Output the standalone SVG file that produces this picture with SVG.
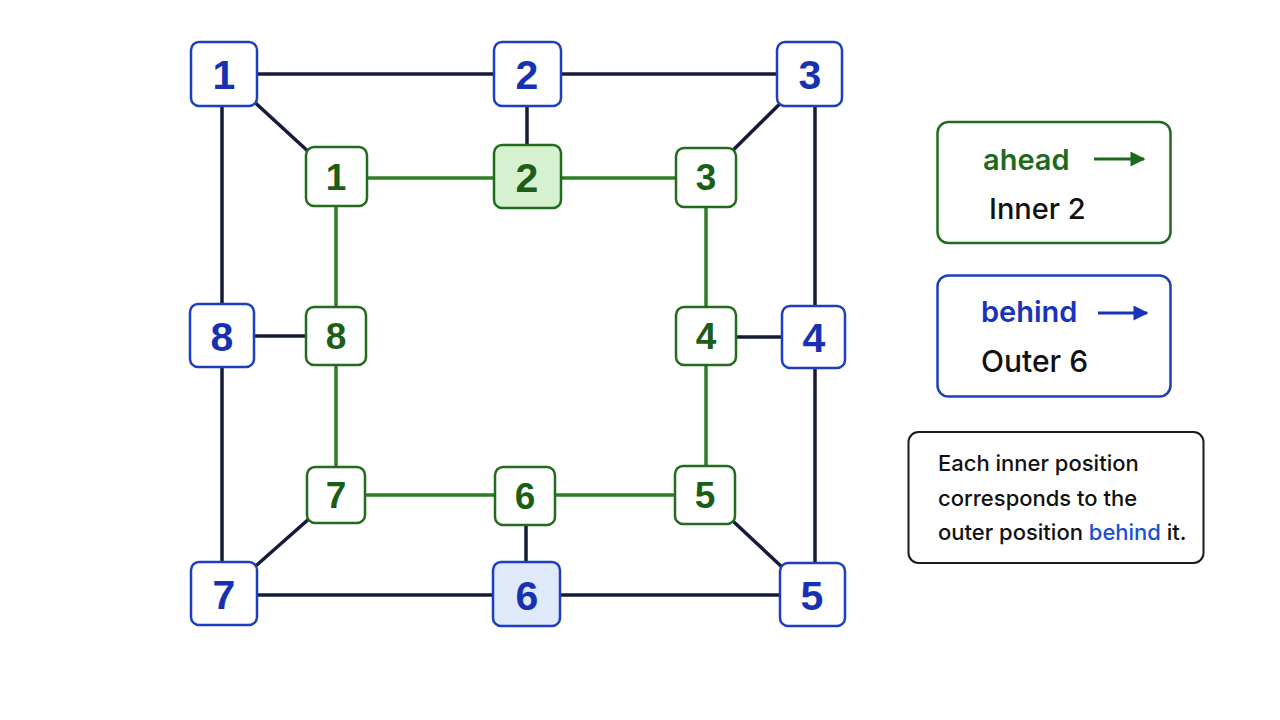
<svg xmlns="http://www.w3.org/2000/svg" width="1280" height="720" viewBox="0 0 1280 720">
<style>
.outer rect{fill:#fff;stroke:#1d3fbf;stroke-width:2.5}
.inner rect{fill:#fff;stroke:#226b1c;stroke-width:2.5}
.outer text{font-family:"Liberation Sans",Arial,sans-serif;font-weight:bold;font-size:41px;fill:#1632b3;text-anchor:middle}
.inner text{font-family:"Liberation Sans",Arial,sans-serif;font-weight:bold;font-size:37px;fill:#1d5e17;text-anchor:middle}
.dark{stroke:#151b3a;stroke-width:3.5;fill:none}
.green{stroke:#2d7d24;stroke-width:3.5;fill:none}
.lbl{font-family:Inter,"Liberation Sans",Arial,sans-serif}
</style>
<defs>
<marker id="ag" viewBox="0 0 10 10" refX="9" refY="5" markerWidth="6" markerHeight="5" orient="auto" markerUnits="strokeWidth"><path d="M0,0L10,5L0,10z" fill="#1d6b1a"/></marker>
<marker id="ab" viewBox="0 0 10 10" refX="9" refY="5" markerWidth="6" markerHeight="5" orient="auto" markerUnits="strokeWidth"><path d="M0,0L10,5L0,10z" fill="#1833bd"/></marker>
</defs>
<rect width="1280" height="720" fill="#fff"/>
<g id="connectors">
<line class="dark" x1="224" y1="74" x2="810" y2="74"/>
<line class="dark" x1="222" y1="74" x2="222" y2="594"/>
<line class="dark" x1="815" y1="74" x2="815" y2="595"/>
<line class="dark" x1="224" y1="595" x2="812" y2="595"/>
<line class="dark" x1="224" y1="74" x2="336" y2="177"/>
<line class="dark" x1="527" y1="74" x2="527" y2="177"/>
<line class="dark" x1="810" y1="74" x2="706" y2="177"/>
<line class="dark" x1="814" y1="337" x2="706" y2="337"/>
<line class="dark" x1="812" y1="595" x2="705" y2="495"/>
<line class="dark" x1="526" y1="595" x2="526" y2="496"/>
<line class="dark" x1="224" y1="594" x2="336" y2="495"/>
<line class="dark" x1="222" y1="336" x2="336" y2="336"/>
<line class="green" x1="336" y1="178" x2="706" y2="178"/>
<line class="green" x1="706" y1="177" x2="706" y2="495"/>
<line class="green" x1="336" y1="495" x2="705" y2="495"/>
<line class="green" x1="336" y1="177" x2="336" y2="495"/>
</g>
<g id="outer1" class="outer"><rect x="191" y="42" width="66" height="64" rx="8"/><text x="224" y="89">1</text></g>
<g id="outer2" class="outer"><rect x="494" y="42" width="67" height="64" rx="8"/><text x="527" y="89">2</text></g>
<g id="outer3" class="outer"><rect x="777" y="42" width="65" height="64" rx="8"/><text x="810" y="89">3</text></g>
<g id="outer4" class="outer"><rect x="782" y="306" width="63" height="62" rx="8"/><text x="814" y="352">4</text></g>
<g id="outer5" class="outer"><rect x="780" y="563" width="65" height="63" rx="8"/><text x="812" y="610">5</text></g>
<g id="outer6" class="outer"><rect x="493" y="562" width="67" height="64" rx="8" style="fill:#dfe9f9"/><text x="527" y="610">6</text></g>
<g id="outer7" class="outer"><rect x="191" y="562" width="66" height="63" rx="8"/><text x="224" y="609">7</text></g>
<g id="outer8" class="outer"><rect x="190" y="304" width="64" height="63" rx="8"/><text x="222" y="351">8</text></g>
<g id="inner1" class="inner"><rect x="306" y="147" width="61" height="59" rx="8"/><text x="336" y="190">1</text></g>
<g id="inner2" class="inner"><rect x="494" y="145" width="67" height="63" rx="8" style="fill:#d6f1cf"/><text x="527" y="192" style="font-size:41px">2</text></g>
<g id="inner3" class="inner"><rect x="676" y="148" width="60" height="59" rx="8"/><text x="706" y="190">3</text></g>
<g id="inner4" class="inner"><rect x="676" y="307" width="60" height="58" rx="8"/><text x="706" y="349">4</text></g>
<g id="inner5" class="inner"><rect x="675" y="466" width="60" height="58" rx="8"/><text x="705" y="508">5</text></g>
<g id="inner6" class="inner"><rect x="495" y="467" width="60" height="58" rx="8"/><text x="525" y="509">6</text></g>
<g id="inner7" class="inner"><rect x="307" y="467" width="58" height="56" rx="8"/><text x="336" y="508">7</text></g>
<g id="inner8" class="inner"><rect x="306" y="307" width="60" height="58" rx="8"/><text x="336" y="349">8</text></g>
<g id="legend-ahead">
<rect x="937.5" y="122" width="233" height="121" rx="11" fill="#fff" stroke="#226b1c" stroke-width="2.5"/>
<text class="lbl" x="983" y="170" font-size="29" font-weight="600" fill="#1d6b1a">ahead</text>
<line x1="1094" y1="159" x2="1144" y2="159" stroke="#1d6b1a" stroke-width="3" marker-end="url(#ag)"/>
<text class="lbl" x="989" y="219" font-size="29" font-weight="500" fill="#111">Inner 2</text>
</g>
<g id="legend-behind">
<rect x="937.5" y="275.5" width="233" height="121" rx="11" fill="#fff" stroke="#1d3fbf" stroke-width="2.5"/>
<text class="lbl" x="981" y="322" font-size="29" font-weight="600" fill="#1833bd">behind</text>
<line x1="1098" y1="313" x2="1147" y2="313" stroke="#1833bd" stroke-width="3" marker-end="url(#ab)"/>
<text class="lbl" x="981" y="372" font-size="30" font-weight="500" fill="#111">Outer 6</text>
</g>
<g id="note">
<rect x="908.5" y="432" width="295" height="131" rx="10" fill="#fff" stroke="#1a1a1a" stroke-width="2"/>
<text class="lbl" font-size="22" font-weight="500" fill="#111"><tspan x="938" y="471">Each inner position</tspan><tspan x="938" y="506">corresponds to the</tspan><tspan x="938" y="540">outer position <tspan fill="#1a4fd6">behind</tspan> it.</tspan></text>
</g>
</svg>
